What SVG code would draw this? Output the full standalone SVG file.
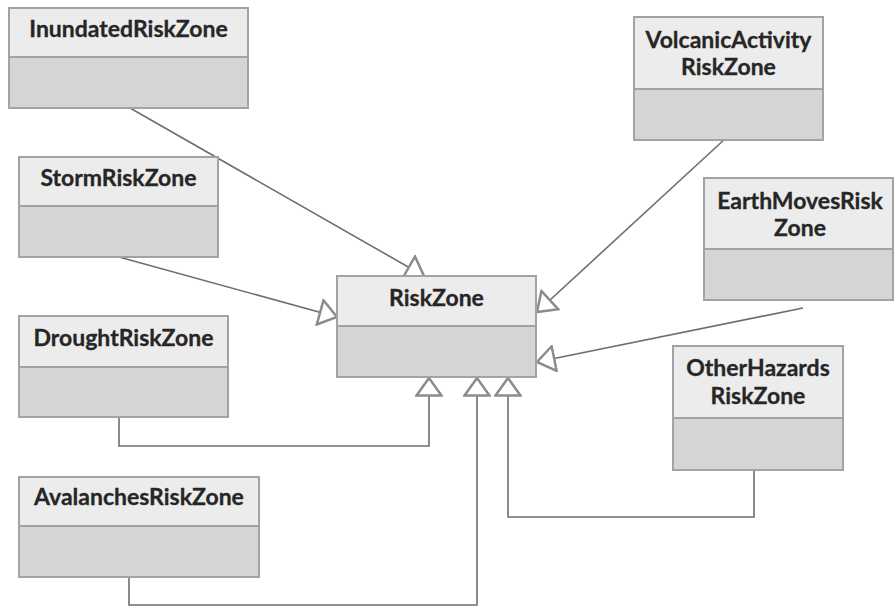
<svg xmlns="http://www.w3.org/2000/svg" width="896" height="607" viewBox="0 0 896 607">
  <style>
    .hd { fill: #ececec; stroke: #a3a3a3; stroke-width: 2; }
    .bd { fill: #d5d5d7; stroke: #a3a3a3; stroke-width: 2; }
    .lbl { font-family: Lato, "Liberation Sans", sans-serif; font-weight: bold; font-size: 23px; fill: #262626; text-anchor: middle; stroke: #262626; stroke-width: 0.3; }
    .conn { fill: none; stroke: #6e6e6e; stroke-width: 1.6; }
  </style>
  <defs>
    <marker id="gen" viewBox="0 0 20 28" refX="19" refY="14" markerWidth="20" markerHeight="28" markerUnits="userSpaceOnUse" orient="auto">
      <path d="M1.5,1.5 L19,14 L1.5,26.5 Z" fill="#ffffff" stroke="#8c8c8c" stroke-width="2.5" stroke-linejoin="miter"/>
    </marker>
  </defs>
  <rect width="896" height="607" fill="#ffffff"/>

  <!-- generalization connectors -->
  <g id="connectors">
    <path class="conn" d="M130,108 L424,276" marker-end="url(#gen)"/>
    <path class="conn" d="M119,257 L337,317" marker-end="url(#gen)"/>
    <path class="conn" d="M726,138 L537,312" marker-end="url(#gen)"/>
    <path class="conn" d="M803,308 L537,362" marker-end="url(#gen)"/>
    <path class="conn" d="M119,417 V446 H429 V378" marker-end="url(#gen)"/>
    <path class="conn" d="M129,577 V605 H477 V378" marker-end="url(#gen)"/>
    <path class="conn" d="M754,470 V517 H508 V378" marker-end="url(#gen)"/>
  </g>

  <g id="inundated">
    <rect class="bd" x="9" y="57" width="239" height="51"/>
    <rect class="hd" x="9" y="8" width="239" height="49"/>
    <text class="lbl" x="128.5" y="37">InundatedRiskZone</text>
  </g>

  <g id="storm">
    <rect class="bd" x="19" y="206" width="199" height="51"/>
    <rect class="hd" x="19" y="157" width="199" height="49"/>
    <text class="lbl" x="118.5" y="186">StormRiskZone</text>
  </g>

  <g id="drought">
    <rect class="bd" x="19" y="367" width="209" height="50"/>
    <rect class="hd" x="19" y="316" width="209" height="51"/>
    <text class="lbl" x="123.5" y="346">DroughtRiskZone</text>
  </g>

  <g id="avalanches">
    <rect class="bd" x="19" y="526" width="240" height="51"/>
    <rect class="hd" x="19" y="477" width="240" height="49"/>
    <text class="lbl" x="139" y="505">AvalanchesRiskZone</text>
  </g>

  <g id="riskzone">
    <rect class="bd" x="337" y="326" width="199" height="51"/>
    <rect class="hd" x="337" y="276" width="199" height="50"/>
    <text class="lbl" x="436.5" y="306">RiskZone</text>
  </g>

  <g id="volcanic">
    <rect class="bd" x="634" y="89" width="189" height="51"/>
    <rect class="hd" x="634" y="17" width="189" height="72"/>
    <text class="lbl" x="728.5" y="48">VolcanicActivity</text>
    <text class="lbl" x="728.5" y="75">RiskZone</text>
  </g>

  <g id="earthmoves">
    <rect class="bd" x="704" y="249" width="189" height="51"/>
    <rect class="hd" x="704" y="178" width="189" height="71"/>
    <text class="lbl" x="800" y="209">EarthMovesRisk</text>
    <text class="lbl" x="800" y="236">Zone</text>
  </g>

  <g id="otherhazards">
    <rect class="bd" x="673" y="418" width="170" height="52"/>
    <rect class="hd" x="673" y="346" width="170" height="72"/>
    <text class="lbl" x="758" y="376">OtherHazards</text>
    <text class="lbl" x="758" y="404">RiskZone</text>
  </g>
</svg>
